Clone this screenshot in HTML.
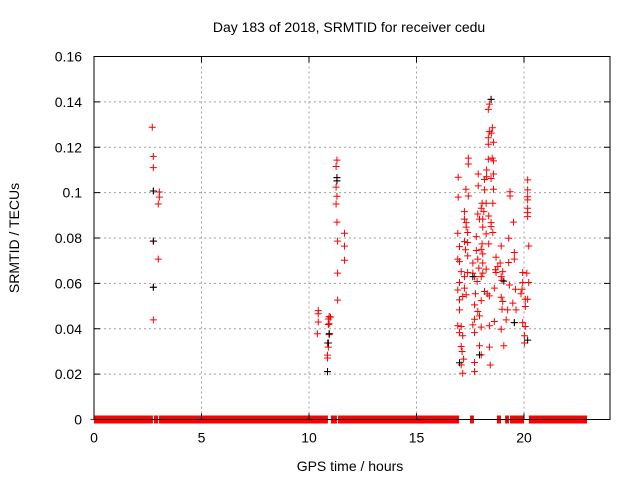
<!DOCTYPE html>
<html><head><meta charset="utf-8"><style>
html,body{margin:0;padding:0;background:#fff;}
svg text{font-family:"Liberation Sans",sans-serif;fill:#000;}
</style></head><body>
<svg id="chart" width="640" height="480" viewBox="0 0 640 480" xmlns="http://www.w3.org/2000/svg">
<rect width="640" height="480" fill="#fff"/>
<g id="grid"></g>
<g id="marks"></g>
<g id="axes"></g>
<text x="349" y="32" font-size="14" text-anchor="middle">Day 183 of 2018, SRMTID for receiver cedu</text>
<text x="350" y="471" font-size="14" text-anchor="middle">GPS time / hours</text>
<text x="0" y="0" font-size="14" text-anchor="middle" transform="translate(19,238) rotate(-90)">SRMTID / TECUs</text>
</svg>
<script>
const xTicks = [0,5,10,15,20];
const yTicks = [0,0.02,0.04,0.06,0.08,0.1,0.12,0.14,0.16];
const yTickLabels = ["0","0.02","0.04","0.06","0.08","0.1","0.12","0.14","0.16"];
const zeroRuns = [[0,2.74],[2.79,2.98],[3.02,10.88],[11.02,11.3],[11.35,16.98],[17.49,17.67],[18.74,18.93],[19.12,19.3],[19.35,20.0],[20.23,22.93]];
const redPoints = [
[2.71,0.1288],[2.76,0.116],[2.76,0.111],[2.76,0.1007],[3.04,0.1003],[3.04,0.098],[2.99,0.095],[2.76,0.0786],[2.99,0.0707],[2.76,0.0583],[2.76,0.0439],
[11.3,0.1143],[11.26,0.1115],[11.3,0.1066],[11.3,0.1052],[11.26,0.1024],[11.3,0.0984],[11.26,0.095],[11.3,0.087],[11.65,0.0821],[11.33,0.0786],[11.65,0.0764],[11.65,0.0702],[11.33,0.0645],[11.33,0.0526],
[10.43,0.048],[10.43,0.0466],[10.43,0.043],[10.39,0.0378],[10.94,0.0454],[11.0,0.0451],[10.9,0.0443],[10.94,0.0422],[10.9,0.0419],[10.94,0.0378],[10.94,0.0374],[10.86,0.0337],[10.9,0.0319],[10.86,0.0284],[10.86,0.0271],[10.86,0.0211],
[18.47,0.1411],[18.39,0.139],[18.34,0.1367],[18.53,0.1286],[18.39,0.1269],[18.48,0.1262],[18.34,0.1242],[18.34,0.1213],[18.58,0.1222],[17.41,0.1152],[17.41,0.1126],[18.34,0.1147],[18.52,0.1152],[18.58,0.114],
[16.94,0.1068],[17.87,0.1082],[18.26,0.11],[18.26,0.107],[18.58,0.1082],[18.47,0.1062],[18.16,0.1058],[17.87,0.103],[17.3,0.1015],[18.16,0.1012],[18.58,0.1015],[16.94,0.098],[17.41,0.0985],[19.35,0.1004],[19.35,0.0985],
[20.17,0.1056],[20.17,0.1012],[20.17,0.0982],[20.17,0.0968],[20.17,0.0931],[20.17,0.0912],[20.17,0.0894],[17.23,0.0916],[17.23,0.0883],[17.31,0.0868],[17.31,0.0848],[17.38,0.0824],
[18.05,0.0953],[18.24,0.0953],[18.55,0.0953],[18.01,0.0931],[18.13,0.0916],[17.85,0.0906],[18.36,0.0897],[17.93,0.0883],[18.08,0.0883],[18.47,0.0868],[19.51,0.087],[18.08,0.0848],[18.47,0.085],[18.55,0.0824],[18.24,0.0818],[16.92,0.0821],
[17.78,0.0806],[19.29,0.0799],[17.38,0.078],[17.23,0.0784],[18.05,0.0774],[18.36,0.0774],[17.0,0.0762],[18.94,0.0765],[20.22,0.0765],[17.28,0.0748],[18.01,0.075],[17.78,0.0745],[18.08,0.073],[19.55,0.0736],
[17.38,0.0721],[17.85,0.0707],[18.7,0.0715],[16.92,0.0707],[19.29,0.0692],[17.62,0.069],[18.08,0.069],[18.89,0.069],[18.78,0.0674],[17.0,0.0696],[19.55,0.0707],[17.9,0.0667],[18.24,0.0663],[18.67,0.066],[19.01,0.0652],
[17.08,0.0652],[17.38,0.0648],[17.62,0.0645],[18.08,0.0645],[18.7,0.0648],[19.94,0.0648],[20.13,0.0645],[17.23,0.063],[17.7,0.063],[18.01,0.063],[18.94,0.063],[18.98,0.0613],[19.32,0.0593],[19.6,0.0574],
[17.0,0.0604],[17.82,0.0608],[20.22,0.0604],[19.94,0.0604],[18.62,0.0579],[16.92,0.0571],[17.23,0.0579],[19.91,0.0574],[18.16,0.0564],[18.29,0.0554],[17.31,0.055],[17.74,0.0554],[18.39,0.0545],[17.15,0.0542],
[19.86,0.0554],[20.06,0.053],[20.17,0.053],[18.94,0.0539],[17.0,0.0527],[18.01,0.0524],[19.01,0.052],[19.48,0.0513],[17.7,0.0505],[20.06,0.0498],[17.0,0.0483],[17.85,0.0476],[18.98,0.0486],[19.24,0.0483],[19.63,0.0483],
[17.93,0.0457],[17.7,0.0442],[19.17,0.0439],[18.62,0.0432],[19.55,0.0427],[19.94,0.0427],[16.92,0.0413],[17.08,0.041],[17.62,0.0417],[18.01,0.0407],[18.39,0.0413],[18.94,0.0398],[20.06,0.041],
[17.0,0.0383],[17.7,0.0383],[17.15,0.0369],[20.02,0.0369],[20.02,0.0337],[17.08,0.0322],[17.93,0.0325],[18.39,0.0319],[19.06,0.0325],[17.12,0.03],[18.01,0.0285],[17.19,0.0266],[17.7,0.0251],[17.08,0.0241],[18.43,0.024],[17.15,0.0204],[17.7,0.0211]
];
const blackPoints = [[2.76,0.1007],[2.76,0.0786],[2.76,0.0583],[11.3,0.1066],[11.3,0.1052],[10.94,0.0378],[10.9,0.0337],[10.86,0.0211],[18.47,0.1411],[17.0,0.025],[17.93,0.0285],[19.55,0.0427],[20.17,0.035],[17.62,0.063],[19.06,0.061]];

const L=94,R=610,T=56.5,B=419.5,XMAX=24,YMAX=0.16;
const xs=h=>L+h/XMAX*(R-L);
const ys=v=>B-v/YMAX*(B-T);
const NS="http://www.w3.org/2000/svg";
function mk(tag,attrs,parent){const e=document.createElementNS(NS,tag);for(const k in attrs)e.setAttribute(k,attrs[k]);parent.appendChild(e);return e;}
const grid=document.getElementById('grid'),axes=document.getElementById('axes'),marks=document.getElementById('marks');
xTicks.forEach(t=>{const x=xs(t);
 if(t>0){const g=mk('line',{x1:x,x2:x,y1:T,y2:B,stroke:'#a0a0a0','stroke-dasharray':'2,3'},grid);
 
 }
 mk('line',{x1:x,x2:x,y1:B,y2:B-6,stroke:'#000'},axes);
 mk('line',{x1:x,x2:x,y1:T,y2:T+6,stroke:'#000'},axes);
 const tx=mk('text',{x:x,y:B+23,'font-size':'14','text-anchor':'middle'},axes);tx.textContent=t;
 
 
});
yTicks.forEach((t,i)=>{const y=ys(t);
 if(t>0&&t<YMAX){const g=mk('line',{x1:L,x2:R,y1:y,y2:y,stroke:'#a0a0a0','stroke-dasharray':'2,3'},grid);
 
 }
 mk('line',{x1:L,x2:L+6,y1:y,y2:y,stroke:'#000'},axes);
 mk('line',{x1:R,x2:R-6,y1:y,y2:y,stroke:'#000'},axes);
 const tx=mk('text',{x:L-12,y:y+5,'font-size':'14','text-anchor':'end'},axes);tx.textContent=yTickLabels[i];
 
 
});
const frame=mk('rect',{x:L,y:T,width:R-L,height:B-T,fill:'none',stroke:'#000','stroke-width':'1'},axes);


function plus(h,v,color,name){const x=xs(h),y=ys(v);
 const p=mk('path',{d:`M${x-3.5},${y}H${x+3.5}M${x},${y-3.5}V${y+3.5}`,stroke:color,'stroke-width':'1',fill:'none'},marks);
 
 }
zeroRuns.forEach(r=>{const x1=xs(r[0]),x2=xs(r[1]),y=ys(0);
 const z=mk('path',{d:`M${x1-3.5},${y}H${x2+3.5}M${x1},${y-3.5}H${x2}M${x1},${y+3.5}H${x2}`,stroke:'#f00','stroke-width':'1',fill:'none'},marks);
 mk('rect',{x:x1,y:y-3.5,width:x2-x1,height:7,fill:'#f00'},marks);
 
 });
redPoints.forEach(p=>plus(p[0],p[1],'#f00','red-point'));
blackPoints.forEach(p=>plus(p[0],p[1],'#000','black-point'));
</script>
</body></html>
